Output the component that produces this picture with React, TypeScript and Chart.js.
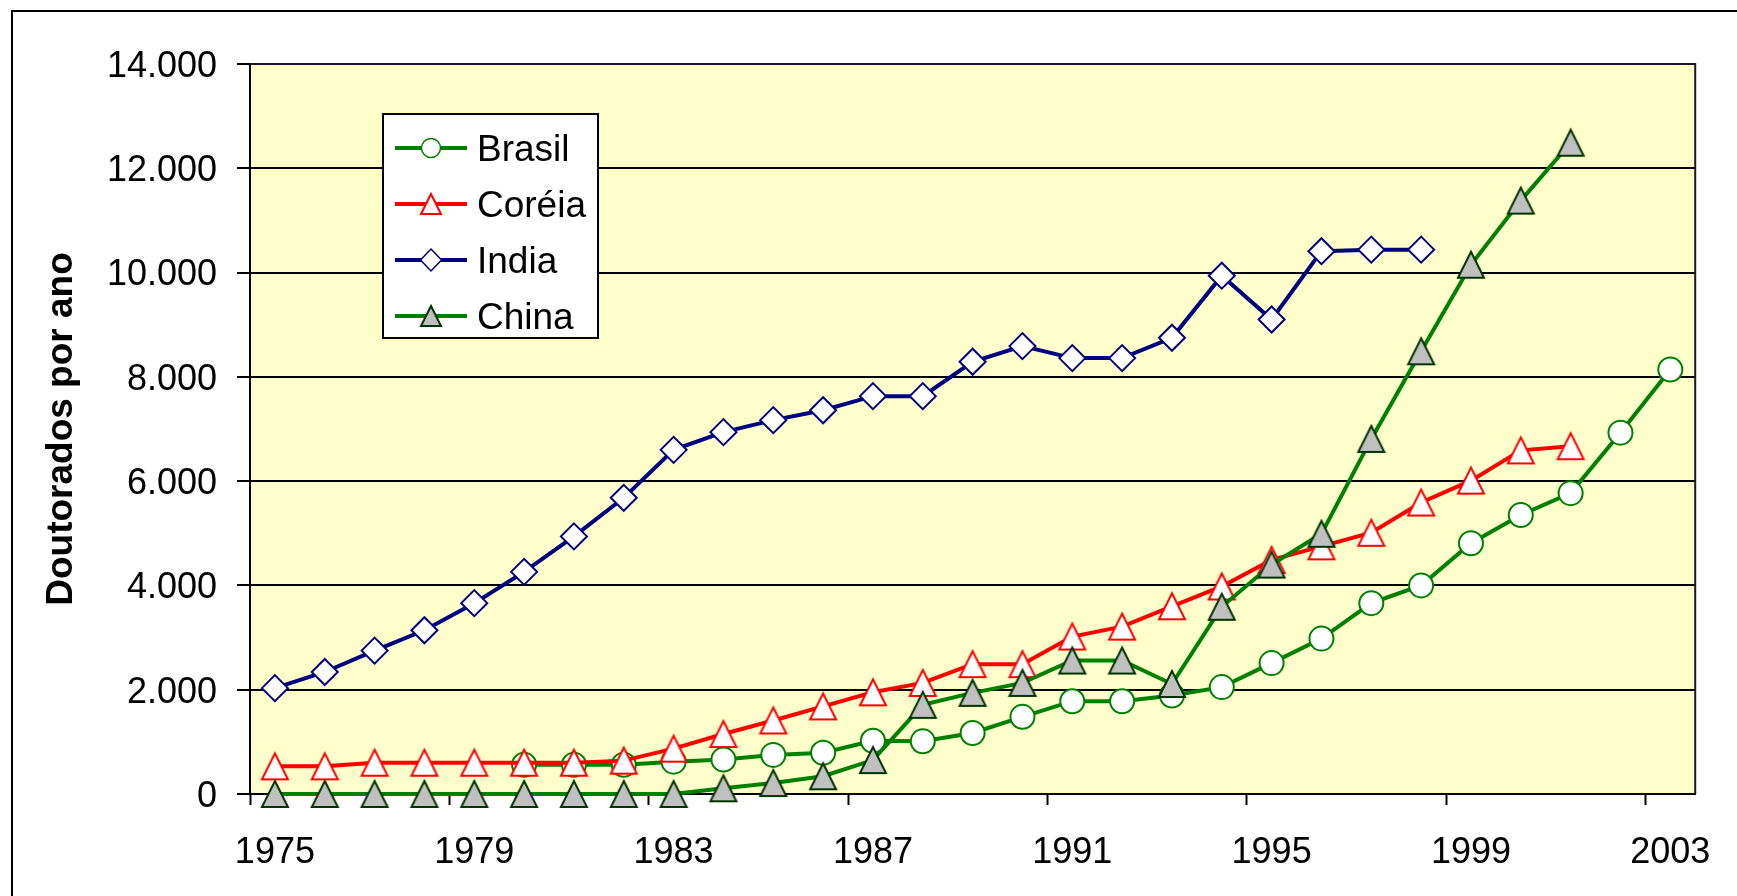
import React, { useEffect, useRef } from 'react';
import { Chart, registerables } from 'chart.js';

Chart.register(...registerables);

const years = [
  '1975', '1976', '1977', '1978', '1979', '1980', '1981', '1982', '1983', '1984',
  '1985', '1986', '1987', '1988', '1989', '1990', '1991', '1992', '1993', '1994',
  '1995', '1996', '1997', '1998', '1999', '2000', '2001', '2002', '2003',
];

const brasil = [
  null, null, null, null, null, 560, 560, 560, 620, 660,
  750, 790, 1020, 1010, 1170, 1480, 1780, 1780, 1890, 2050,
  2510, 2980, 3660, 4000, 4810, 5350, 5770, 6930, 8140,
];

const coreia = [
  530, 530, 600, 600, 600, 600, 600, 640, 870, 1150,
  1410, 1680, 1950, 2130, 2490, 2490, 3020, 3210, 3600, 3980,
  4490, 4750, 5010, 5590, 6010, 6590, 6670, null, null,
];

const india = [
  2030, 2340, 2750, 3140, 3660, 4260, 4940, 5680, 6600, 6940,
  7170, 7360, 7630, 7630, 8290, 8590, 8360, 8360, 8750, 9940,
  9100, 10410, 10440, 10440, null, null, null, null, null,
];

const china = [
  0, 0, 0, 0, 0, 0, 0, 0, 0, 110,
  210, 340, 650, 1710, 1940, 2130, 2560, 2560, 2110, 3590,
  4400, 4990, 6810, 8490, 10150, 11380, 12490, null, null,
];

const seriesNames = ['Brasil', 'Coréia', 'India', 'China'];

const yMin = 0;
const yMax = 14000;
const yStep = 2000;
const xLabelEvery = 4;

const FONT = '"Liberation Sans", Arial, sans-serif';

function fmtThousands(v: number): string {
  return String(v).replace(/\B(?=(\d{3})+(?!\d))/g, '.');
}

function makeTriangle(size: number, fill: string, stroke: string, lw: number): HTMLCanvasElement {
  const pad = 4;
  const c = document.createElement('canvas');
  c.width = size + pad * 2;
  c.height = size + pad * 2;
  const g = c.getContext('2d')!;
  const cx = c.width / 2;
  const cy = c.height / 2;
  const h = size - lw;
  const w = size - lw;
  g.beginPath();
  g.moveTo(cx, cy - h / 2);
  g.lineTo(cx + w / 2, cy + h / 2);
  g.lineTo(cx - w / 2, cy + h / 2);
  g.closePath();
  g.fillStyle = fill;
  g.fill();
  g.lineWidth = lw;
  g.strokeStyle = stroke;
  g.lineJoin = 'miter';
  g.stroke();
  return c;
}

export default function App() {
  const ref = useRef<HTMLCanvasElement | null>(null);

  useEffect(() => {
    document.body.style.margin = '0';
    const canvas = ref.current;
    if (!canvas) return;

    const GREEN = '#008000';
    const RED = '#FF0000';
    const NAVY = '#000080';
    const CHINA_EDGE = '#003300';
    const GRAY = '#C0C0C0';

    const coreiaTri = makeTriangle(28, '#FFFFFF', RED, 2);
    const chinaTri = makeTriangle(28, GRAY, CHINA_EDGE, 2);
    const coreiaTriL = makeTriangle(22, '#FFFFFF', RED, 2);
    const chinaTriL = makeTriangle(22, GRAY, CHINA_EDGE, 2);

    const bgPlugin = {
      id: 'bgPlugin',
      afterLayout(chart: any) {
        const ys = chart.scales.y;
        if (ys && !ys.__shifted) {
          const orig = ys.drawLabels;
          ys.drawLabels = function (area: any) {
            const c = this.ctx;
            c.save();
            c.translate(0, 3);
            orig.call(this, area);
            c.restore();
          };
          ys.__shifted = true;
        }
      },
      beforeDraw(chart: any) {
        const { ctx, chartArea } = chart;
        ctx.save();
        ctx.fillStyle = '#FFFFFF';
        ctx.fillRect(0, 0, chart.width, chart.height);
        ctx.strokeStyle = '#000000';
        ctx.lineWidth = 2;
        ctx.strokeRect(12, 11, chart.width + 20, chart.height + 20);
        ctx.fillStyle = '#FFFFCC';
        ctx.fillRect(chartArea.left, chartArea.top, chartArea.right - chartArea.left, chartArea.bottom - chartArea.top);
        ctx.restore();
      },
      afterDraw(chart: any) {
        const { ctx, chartArea } = chart;
        ctx.save();
        // plot area top / right border
        ctx.strokeStyle = '#1a1a1a';
        ctx.lineWidth = 2;
        ctx.beginPath();
        ctx.moveTo(chartArea.left, chartArea.top);
        ctx.lineTo(chartArea.right, chartArea.top);
        ctx.lineTo(chartArea.right, chartArea.bottom);
        ctx.stroke();

        // legend
        const bx = 383, by = 114, bw = 215, bh = 224;
        ctx.fillStyle = '#FFFFFF';
        ctx.fillRect(bx, by, bw, bh);
        ctx.strokeStyle = '#000000';
        ctx.lineWidth = 2;
        ctx.strokeRect(bx, by, bw, bh);

        const rowsY = [148, 204, 260, 316];
        const colors = [GREEN, RED, NAVY, GREEN];
        const mx = 431;
        for (let i = 0; i < seriesNames.length; i++) {
          const y = rowsY[i];
          ctx.strokeStyle = colors[i];
          ctx.lineWidth = 4;
          ctx.beginPath();
          ctx.moveTo(395, y);
          ctx.lineTo(467, y);
          ctx.stroke();
          if (i === 0) {
            ctx.beginPath();
            ctx.arc(mx, y, 9.5, 0, Math.PI * 2);
            ctx.fillStyle = '#FFFFFF';
            ctx.fill();
            ctx.lineWidth = 1.5;
            ctx.strokeStyle = GREEN;
            ctx.stroke();
          } else if (i === 1) {
            ctx.drawImage(coreiaTriL, mx - coreiaTriL.width / 2, y - coreiaTriL.height / 2);
          } else if (i === 2) {
            ctx.beginPath();
            ctx.moveTo(mx, y - 11);
            ctx.lineTo(mx + 10.5, y);
            ctx.lineTo(mx, y + 11);
            ctx.lineTo(mx - 10.5, y);
            ctx.closePath();
            ctx.fillStyle = '#FFFFFF';
            ctx.fill();
            ctx.lineWidth = 1.5;
            ctx.strokeStyle = NAVY;
            ctx.stroke();
          } else {
            ctx.drawImage(chinaTriL, mx - chinaTriL.width / 2, y - chinaTriL.height / 2);
          }
          ctx.fillStyle = '#000000';
          ctx.font = `37px ${FONT}`;
          ctx.textAlign = 'left';
          ctx.textBaseline = 'alphabetic';
          ctx.fillText(seriesNames[i], 477, y + 13.3);
        }
        ctx.restore();
      },
    };

    const chart = new Chart(canvas, {
      type: 'line',
      data: {
        labels: years,
        datasets: [
          {
            label: seriesNames[3],
            data: china,
            borderColor: GREEN,
            borderWidth: 4,
            pointStyle: chinaTri as any,
            pointRadius: 14,
            tension: 0,
            clip: false as any,
          },
          {
            label: seriesNames[2],
            data: india,
            borderColor: NAVY,
            borderWidth: 4,
            pointStyle: 'rectRot',
            pointRadius: 13,
            pointBorderWidth: 2,
            pointBorderColor: NAVY,
            pointBackgroundColor: '#FFFFFF',
            tension: 0,
            clip: false as any,
          },
          {
            label: seriesNames[1],
            data: coreia,
            borderColor: RED,
            borderWidth: 4,
            pointStyle: coreiaTri as any,
            pointRadius: 14,
            tension: 0,
            clip: false as any,
          },
          {
            label: seriesNames[0],
            data: brasil,
            borderColor: GREEN,
            borderWidth: 4,
            pointStyle: 'circle',
            pointRadius: 12,
            pointBorderWidth: 2,
            pointBorderColor: GREEN,
            pointBackgroundColor: '#FFFFFF',
            tension: 0,
            clip: false as any,
          },
        ],
      },
      options: {
        responsive: false,
        animation: false,
        events: [],
        layout: { padding: { left: 0, top: 64, right: 38, bottom: 0 } },
        plugins: {
          legend: { display: false },
          tooltip: { enabled: false },
          title: { display: false },
        },
        scales: {
          x: {
            type: 'category',
            offset: true,
            grid: {
              offset: true,
              drawOnChartArea: false,
              drawTicks: true,
              tickLength: 11,
              tickWidth: 2,
              tickColor: (c: any) => (c.index % xLabelEvery === 0 ? '#000000' : 'rgba(0,0,0,0)'),
            },
            border: { display: true, color: '#000000', width: 2 },
            ticks: {
              autoSkip: false,
              maxRotation: 0,
              minRotation: 0,
              padding: 26,
              color: '#000000',
              font: { family: FONT, size: 36 },
              callback: function (this: any, val: any, idx: number) {
                return idx % xLabelEvery === 0 ? this.getLabelForValue(val) : '';
              },
            },
            afterFit: (s: any) => {
              s.height = 102;
            },
          },
          y: {
            min: yMin,
            max: yMax,
            ticks: {
              stepSize: yStep,
              padding: 20,
              color: '#000000',
              font: { family: FONT, size: 36 },
              callback: (v: any) => fmtThousands(Number(v)),
            },
            grid: {
              color: '#000000',
              lineWidth: 2,
              drawTicks: true,
              tickLength: 13,
              tickWidth: 2,
              tickColor: '#000000',
            },
            border: { display: true, color: '#000000', width: 2 },
            title: {
              display: true,
              text: 'Doutorados por ano',
              color: '#000000',
              font: { family: FONT, size: 37, weight: 'bold' },
              padding: { top: 40, bottom: 0 },
            },
            afterFit: (s: any) => {
              s.width = 250;
            },
          },
        },
      } as any,
      plugins: [bgPlugin],
    });

    return () => {
      chart.destroy();
    };
  }, []);

  return (
    <div style={{ width: 1737, height: 896 }}>
      <canvas ref={ref} width={1737} height={896} style={{ display: 'block' }} />
    </div>
  );
}
